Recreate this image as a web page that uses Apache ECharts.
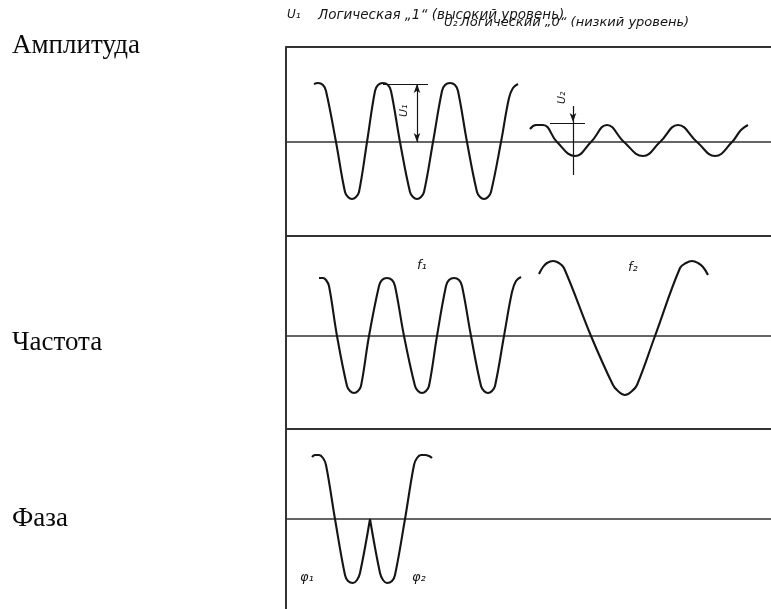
<!DOCTYPE html>
<html>
<head>
<meta charset="utf-8">
<script src="https://cdn.jsdelivr.net/npm/echarts@6/dist/echarts.min.js"></script>
<style>html,body{margin:0;padding:0;background:#fff}#c{width:771px;height:609px}</style>
</head>
<body>
<div id="c"></div>
<script>
// Panel names
var panelNames = ['Амплитуда', 'Частота', 'Фаза'];
var headerLine1 = ['U₁', 'Логическая „1“ (высокий уровень)'];
var headerLine2 = ['U₂', 'Логический „0“ (низкий уровень)'];

// Amplitude panel: high-amplitude wave (logical 1)
var ampHigh = [[28,58],[32,59],[37,57],[40,51],[50,0],
  [59,-50],[62,-55],[66,-57],[70,-55],[73,-50],[81,0],
  [89,51],[92,57],[97,59],[102,57],[105,51],[114,0],
  [124,-50],[127,-55],[131,-57],[135,-55],[138,-50],[147,0],
  [156,51],[159,57],[164,59],[169,57],[172,51],[181,0],
  [191,-50],[194,-55],[198,-57],[202,-55],[205,-50],[215,0],
  [223,44],[227,54],[232,58]];
// Amplitude panel: low-amplitude wave (logical 0)
var ampLow = [[244,13],[250,17],[257,17],[271,0],[289,-14],[305,0],[321,17],[338,0],[357,-14],[374,0],
  [392,17],[411,0],[429,-14],[446,0],[455,12],[462,17]];
// Dimension marks (data units)
var u1Dim = [[131,58],[131,0]];
var u1Ext = [[97,58],[142,58]];
var u2Arrow = [[287,36],[287,20]];
var u2Stem = [[287,20],[287,-33]];
var u2Ext = [[264,19],[299,19]];

// Frequency panel: f1
var freqF1 = [[33,58],[37,58],[40,56],[43,50],[51,0],
  [61,-50],[64,-55],[68,-57],[72,-55],[75,-50],[83,0],
  [93,50],[96,56],[101,58],[106,56],[109,50],[118,0],
  [129,-50],[132,-55],[136,-57],[140,-55],[143,-50],[151,0],
  [160,50],[163,56],[168,58],[173,56],[176,50],[185,0],
  [195,-50],[198,-55],[202,-57],[206,-55],[209,-50],[218,0],
  [226,44],[230,55],[235,59]];
// Frequency panel: f2
var freqF2 = [[253,62],[257,69],[261,73],[267,75],[273,73],[278,68],[305,0],
  [327,-49],[332,-55],[339,-59],[346,-55],[351,-49],[369,0],
  [394,68],[400,73],[406,75],[412,73],[417,69],[422,61]];

// Phase panel: phi1 and phi2 halves (sharp join at the baseline)
var phase1 = [[26,62],[29,64],[33,64],[37,61],[40,54],[49,0],[59,-56],[62,-62],[67,-64],[71,-61],[74,-54],[84,0]];
var phase2 = [[84,0],[94,-54],[97,-61],[101,-64],[106,-62],[109,-56],[119,0],[128,54],[131,61],[135,64],[139,64],[143,63],[146,61]];

var waveLabels = ['f₁', 'f₂', 'φ₁', 'φ₂'];

var ink = '#151515';
var frame = '#333';
var grids = [
  {left: 286, right: 0, top: 47, height: 189},
  {left: 286, right: 0, top: 236, height: 193},
  {left: 286, right: 0, top: 429, height: 180}
];
var yRanges = [[-94, 95], [-93, 100], [-90, 90]];

var xAxes = [], yAxes = [];
grids.forEach(function (g, i) {
  xAxes.push({gridIndex: i, type: 'value', min: 0, max: 485, position: 'bottom',
    axisLine: {show: true, onZero: true, lineStyle: {color: frame, width: 1.6}},
    axisTick: {show: false}, axisLabel: {show: false}, splitLine: {show: false}});
  xAxes.push({gridIndex: i, type: 'value', min: 0, max: 485, position: 'top',
    axisLine: {show: true, onZero: false, lineStyle: {color: frame, width: 1.8}},
    axisTick: {show: false}, axisLabel: {show: false}, splitLine: {show: false}});
  yAxes.push({gridIndex: i, type: 'value', min: yRanges[i][0], max: yRanges[i][1],
    axisLine: {show: true, onZero: false, lineStyle: {color: frame, width: 2}},
    axisTick: {show: false}, axisLabel: {show: false}, splitLine: {show: false}});
});

function wave(data, gi, smooth) {
  return {type: 'line', xAxisIndex: gi * 2, yAxisIndex: gi, data: data, smooth: smooth,
    showSymbol: false, symbol: 'none', silent: true, animation: false,
    lineStyle: {color: ink, width: 2.1}};
}

var s1 = wave(ampHigh, 0, 0.4);
s1.markLine = {silent: true, animation: false, symbolSize: [5, 9],
  label: {show: false}, lineStyle: {color: ink, width: 1.2, type: 'solid'},
  data: [
    [{coord: u1Dim[0], symbol: 'arrow'}, {coord: u1Dim[1], symbol: 'arrow'}],
    [{coord: u1Ext[0], symbol: 'none'}, {coord: u1Ext[1], symbol: 'none'}],
    [{coord: u2Arrow[0], symbol: 'none'}, {coord: u2Arrow[1], symbol: 'arrow'}],
    [{coord: u2Stem[0], symbol: 'none'}, {coord: u2Stem[1], symbol: 'none'}],
    [{coord: u2Ext[0], symbol: 'none'}, {coord: u2Ext[1], symbol: 'none'}]
  ]};

var series = [
  s1,
  wave(ampLow, 0, 0.45),
  wave(freqF1, 1, 0.4),
  wave(freqF2, 1, 0.4),
  wave(phase1, 2, 0.4),
  wave(phase2, 2, 0.4)
];

var serif = '"Liberation Serif", "DejaVu Serif", serif';
var hand = '"DejaVu Sans", sans-serif';
function txt(x, y, s, size, fam) {
  return {type: 'text', x: x, y: y, silent: true,
    style: {text: s, fill: '#0a0a0a', font: size + 'px ' + fam, verticalAlign: 'middle', align: 'left'}};
}
function itxt(x, y, s, size, rot) {
  var o = {type: 'text', x: x, y: y, silent: true,
    style: {text: s, fill: ink, font: 'italic ' + size + 'px ' + hand, verticalAlign: 'middle', align: 'left'}};
  if (rot) o.rotation = rot;
  return o;
}

var graphics = [
  txt(12, 46, panelNames[0], 27, serif),
  txt(12, 343, panelNames[1], 27, serif),
  txt(12, 519, panelNames[2], 27, serif),
  itxt(287, 15, headerLine1[0], 12),
  itxt(318, 15, headerLine1[1], 13.5),
  itxt(444, 23, headerLine2[0], 12),
  itxt(460, 23, headerLine2[1], 13),
  itxt(417, 266, waveLabels[0], 13),
  itxt(628, 268, waveLabels[1], 13),
  itxt(300, 578, waveLabels[2], 13),
  itxt(412, 578, waveLabels[3], 13),
  itxt(404, 117, 'U₁', 11, Math.PI / 2),
  itxt(562, 104, 'U₂', 11, Math.PI / 2)
];

var chart = echarts.init(document.getElementById('c'), null, {renderer: 'canvas'});
chart.setOption({
  backgroundColor: '#fff',
  animation: false,
  grid: grids,
  xAxis: xAxes,
  yAxis: yAxes,
  series: series,
  graphic: graphics
});
</script>
</body>
</html>
